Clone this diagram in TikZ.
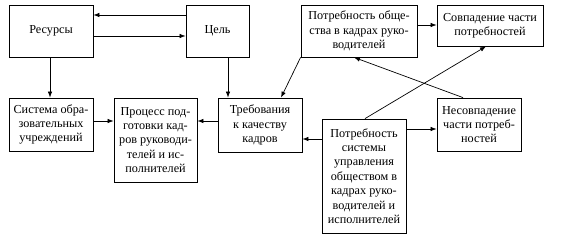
\documentclass[tikz,border=0pt]{standalone}
\usepackage{fontspec}
\setmainfont{Liberation Serif}
\usetikzlibrary{arrows.meta}
\begin{document}
\begin{tikzpicture}[x=1pt,y=-1pt,
  box/.style={draw, line width=0.8pt, inner sep=0pt, align=center,
    font=\fontsize{12.2}{14.4}\selectfont},
  arr/.style={line width=0.7pt, -{Latex[length=6pt,width=4.5pt]}}]
\useasboundingbox (0,0) rectangle (561,240);
\node[box, minimum width=84pt, minimum height=52pt] (res) at (51,31) {Ресурсы};
\node[box, minimum width=63pt, minimum height=52pt] (cel) at (217.5,31) {Цель};
\node[box, minimum width=84pt, minimum height=53pt] (sys) at (51,124.5) {Система обра-\\зовательных\\учреждений};
\node[box, minimum width=83pt, minimum height=84pt] (proc) at (155.5,140) {Процесс под-\\готовки кад-\\ров руководи-\\телей и ис-\\полнителей};
\node[box, minimum width=84pt, minimum height=54pt] (treb) at (260,125) {Требования\\к качеству\\кадров};
\node[box, minimum width=116pt, minimum height=52pt] (potr) at (359,31) {Потребность обще-\\ства в кадрах руко-\\водителей};
\node[box, minimum width=106pt, minimum height=41pt] (sovp) at (490,25.5) {Совпадение части\\потребностей};
\node[box, minimum width=84pt, minimum height=53pt] (nes) at (479,124.5) {Несовпадение\\части потреб-\\ностей};
\node[box, minimum width=84pt, minimum height=114pt] (psys) at (364,176) {Потребность\\системы\\управления\\обществом в\\кадрах руко-\\водителей и\\исполнителей};

\draw[arr] (cel.west |- 0,15) -- (res.east |- 0,15);
\draw[arr] (res.east |- 0,36) -- (cel.west |- 0,36);
\draw[arr] (res.south -| 50,0) -- (sys.north -| 50,0);
\draw[arr] (cel.south -| 228,0) -- (treb.north -| 228,0);
\draw[arr] (sys.east |- 0,121) -- (proc.west |- 0,121);
\draw[arr] (treb.west |- 0,121) -- (proc.east |- 0,121);
\draw[arr] (potr.east |- 0,25) -- (sovp.west |- 0,25);
\draw[arr] (potr.south west) -- (treb.north -| 281,0);
\draw[arr] (nes.north -| 463,0) -- (potr.south -| 354,0);
\draw[arr] (psys.north -| 365,0) -- (sovp.south -| 486,0);
\draw[arr] (psys.west |- 0,139) -- (treb.east |- 0,139);
\draw[arr] (psys.east |- 0,129) -- (nes.west |- 0,129);
\end{tikzpicture}
\end{document}
